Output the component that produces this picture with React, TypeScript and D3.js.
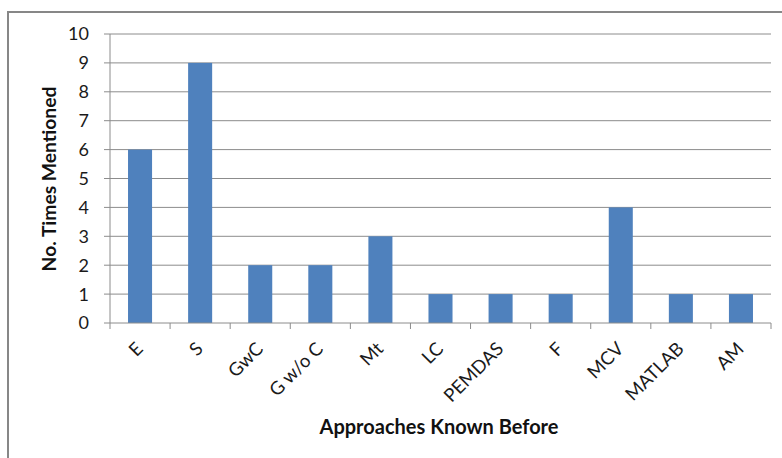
import React from "react";
import * as d3 from "d3";

const categories = ["E", "S", "GwC", "G w/o C", "Mt", "LC", "PEMDAS", "F", "MCV", "MATLAB", "AM"];
const values = [6, 9, 2, 2, 3, 1, 1, 1, 4, 1, 1];
const yTicks = [0, 1, 2, 3, 4, 5, 6, 7, 8, 9, 10];
const xTitle = "Approaches Known Before";
const yTitle = "No. Times Mentioned";

export default function App() {
  const W = 782, H = 458;
  const left = 110, right = 771, top = 34, bottom = 323;
  const x = d3.scaleBand<string>().domain(categories).range([left, right]).paddingInner(0.6).paddingOuter(0.3);
  const xOuter = d3.scaleBand<string>().domain(categories).range([left, right]);
  const y = d3.scaleLinear().domain([0, 10]).range([bottom, top]);
  const font = "Lato, 'Open Sans', sans-serif";
  return (
    <svg width={W} height={H} style={{ position: "absolute", left: 0, top: 0 }}>
      <rect x={0} y={0} width={W} height={H} fill="#fff" />
      <rect x={8} y={12} width={W + 20} height={H + 20} fill="none" stroke="#878787" strokeWidth={2} />
      {yTicks.filter(t => t > 0).map(t => (
        <line key={t} x1={left} x2={right} y1={y(t)} y2={y(t)} stroke="#8c8c8c" strokeWidth={1} />
      ))}
      {values.map((v, i) => (
        <rect key={i} x={x(categories[i])} y={y(v)} width={x.bandwidth()} height={y(0) - y(v)} fill="#4F81BD" />
      ))}
      <line x1={left} x2={left} y1={top} y2={bottom} stroke="#8c8c8c" />
      <line x1={left} x2={right} y1={bottom} y2={bottom} stroke="#8c8c8c" />
      {yTicks.map(t => (
        <g key={t}>
          <line x1={left - 6} x2={left} y1={y(t)} y2={y(t)} stroke="#8c8c8c" />
          <text x={left - 21} y={y(t)} dy="0.36em" textAnchor="end" fontFamily={font} fontSize={18} fill="#1a1a1a">{t}</text>
        </g>
      ))}
      {categories.map((c, i) => (
        <line key={"t" + i} x1={xOuter(c)!} x2={xOuter(c)!} y1={bottom} y2={bottom + 6} stroke="#8c8c8c" />
      ))}
      <line x1={right} x2={right} y1={bottom} y2={bottom + 6} stroke="#8c8c8c" />
      {categories.map((c, i) => {
        const cx = xOuter(c)! + xOuter.bandwidth() / 2 + 4;
        const cy = bottom + 27;
        return (
          <text key={"l" + i} transform={`translate(${cx},${cy}) rotate(-45)`} textAnchor="end"
            fontFamily={font} fontSize={18.5} fill="#1a1a1a">{c}</text>
        );
      })}
      <text x={439} y={434} textAnchor="middle" fontFamily={font} fontSize={20} fontWeight="bold" fill="#111">{xTitle}</text>
      <text transform={`translate(56,179) rotate(-90)`} textAnchor="middle" fontFamily={font} fontSize={19.3} fontWeight="bold" fill="#111">{yTitle}</text>
    </svg>
  );
}
